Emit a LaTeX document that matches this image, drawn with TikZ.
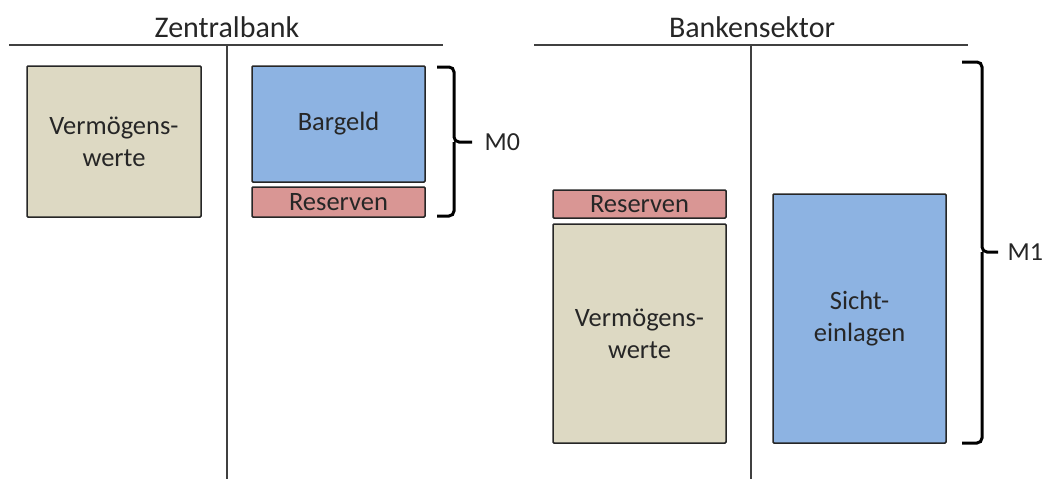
\documentclass[tikz,border=0pt]{standalone}
\usepackage{fontspec}
\setmainfont{Carlito}
\definecolor{beige}{HTML}{DDD9C3}
\definecolor{blau}{HTML}{8DB3E2}
\definecolor{rosa}{HTML}{D99694}
\definecolor{linie}{HTML}{404040}
\definecolor{schrift}{HTML}{262626}
\begin{document}
\begin{tikzpicture}[x=1pt,y=-1pt,
  konto/.style={draw=linie,line width=1.8pt},
  kasten/.style={draw=black!85,line width=1.5pt,rounded corners=1pt,inner sep=0pt,align=center,text=schrift,font=\fontsize{26.5}{32}\selectfont},
  titel/.style={font=\fontsize{30}{36}\selectfont,text=schrift},
  klammer/.style={draw=black,line width=3pt,rounded corners=5pt},
  mlabel/.style={font=\fontsize{26}{31}\selectfont,text=schrift,anchor=west}]
\useasboundingbox (0,0) rectangle (1047,479);
% Zentralbank T-account
\coordinate (zl) at (9,45); \coordinate (zr) at (443,45);
\coordinate (zt) at (227,45); \coordinate (zb) at (227,479);
\draw[konto] (zl) -- (zr);
\draw[konto] (zt) -- (zb);
\node[titel] (ztitel) at (227,27) {Zentralbank};
\node[kasten,fill=beige,minimum width=174pt,minimum height=151pt] (zverm) at (114,141.5) {Vermögens-\\werte};
\node[kasten,fill=blau,minimum width=173pt,minimum height=116pt] (bargeld) at (338.5,124) {Bargeld};
\node[kasten,fill=rosa,minimum width=173pt,minimum height=30pt] (zres) at (338.5,202) {Reserven};
% M0 brace
\coordinate (m0a) at (437,67); \coordinate (m0b) at (437,216);
\coordinate (m0m) at (472,142);
\draw[klammer] (m0a) -- (454,67) -- (454,142) -- (m0m);
\draw[klammer] (m0b) -- (454,216) -- (454,142);
\node[mlabel] (m0) at (481,142) {M0};
% Bankensektor T-account
\coordinate (bl) at (534,45); \coordinate (br) at (968,45);
\coordinate (bt) at (751,45); \coordinate (bb) at (751,479);
\draw[konto] (bl) -- (br);
\draw[konto] (bt) -- (bb);
\node[titel] (btitel) at (752,27) {Bankensektor};
\node[kasten,fill=rosa,minimum width=173pt,minimum height=28pt] (bres) at (639.5,204) {Reserven};
\node[kasten,fill=beige,minimum width=173pt,minimum height=219pt] (bverm) at (639.5,333.5) {Vermögens-\\werte};
\node[kasten,fill=blau,minimum width=173pt,minimum height=249pt] (sicht) at (859.5,318.5) {Sicht-\\einlagen};
% M1 brace
\coordinate (m1a) at (962,62); \coordinate (m1b) at (962,443);
\coordinate (m1m) at (998,252);
\draw[klammer] (m1a) -- (982,62) -- (982,252) -- (m1m);
\draw[klammer] (m1b) -- (982,443) -- (982,252);
\node[mlabel] (m1) at (1004,252) {M1};
\end{tikzpicture}
\end{document}
